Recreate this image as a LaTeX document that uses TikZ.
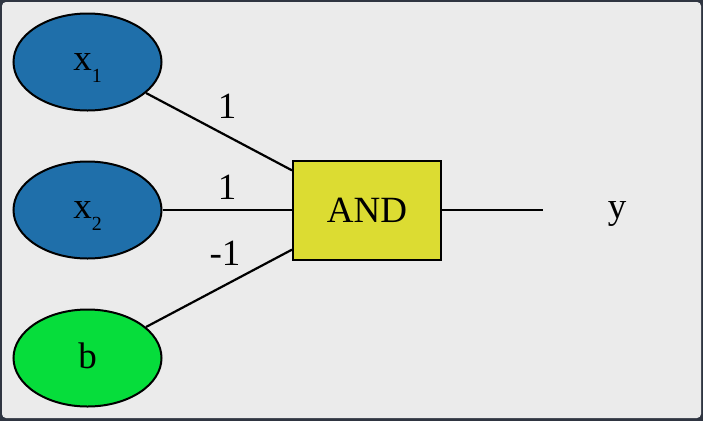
\documentclass[tikz,border=0pt]{standalone}
\usepackage{fontspec}
\setmainfont{Liberation Serif}
\usetikzlibrary{shapes.geometric}
\definecolor{bordercol}{HTML}{2F3541}
\definecolor{bgcol}{HTML}{EBEBEB}
\definecolor{bluecol}{HTML}{1F6FAA}
\definecolor{greencol}{HTML}{06DD3B}
\definecolor{yellowcol}{HTML}{DCDC32}
\newcommand\subtxt[1]{\raisebox{-12pt}[0pt][0pt]{\fontsize{20}{24}\selectfont #1}}
\begin{document}
\begin{tikzpicture}[x=1pt,y=-1pt,
  bigfont/.style={font=\fontsize{37}{44}\selectfont},
  inp/.style={ellipse,draw=black,line width=2pt,minimum width=148pt,minimum height=97pt,inner sep=0pt,bigfont},
  gate/.style={rectangle,draw=black,fill=yellowcol,line width=2pt,minimum width=148pt,minimum height=99pt,inner sep=0pt,bigfont},
  outnode/.style={ellipse,minimum width=148pt,minimum height=97pt,inner sep=0pt,bigfont},
  wire/.style={line width=2.2pt},
  wlabel/.style={inner sep=0pt,bigfont}]
\useasboundingbox (0,0) rectangle (703,421);
\fill[bordercol] (0,0) rectangle (703,421);
\fill[bgcol,rounded corners=4pt] (2,2) rectangle (701,418);
\node[inp,fill=bluecol] (x1) at (87.5,62) {x\subtxt{1}};
\node[inp,fill=bluecol] (x2) at (87.5,210) {x\subtxt{2}};
\node[inp,fill=greencol] (b) at (87.5,358) {\raisebox{2.5pt}[\height][0pt]{b}};
\node[gate] (and) at (367,210) {AND};
\node[outnode] (y) at (617,210) {\raisebox{0pt}[\height][0pt]{y}};
\draw[wire] (x1) -- (and);
\draw[wire] (x2) -- (and);
\draw[wire] (b) -- (and);
\draw[wire] (and) -- (y);
\node[wlabel] (l1) at (227,106) {1};
\node[wlabel] (l2) at (227,187) {1};
\node[wlabel] (l3) at (225,253) {-1};
\end{tikzpicture}
\end{document}
